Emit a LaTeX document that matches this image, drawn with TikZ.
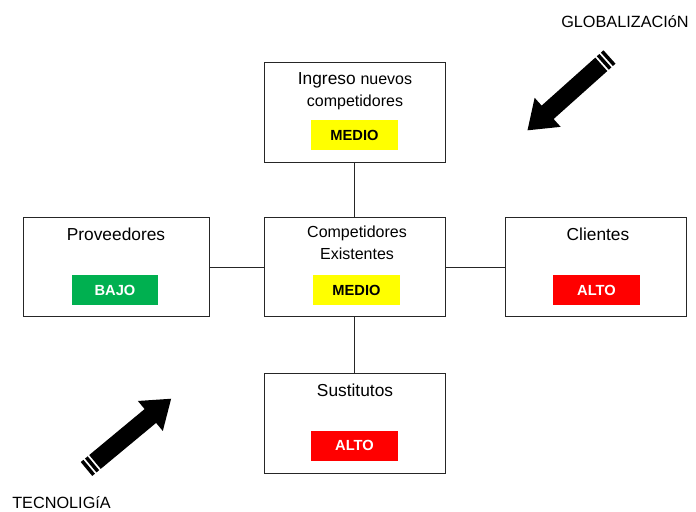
\documentclass[tikz,border=0pt]{standalone}
\usepackage{fontspec}
\setmainfont{Liberation Sans}
\definecolor{lvlyellow}{HTML}{FFFF00}
\definecolor{lvlgreen}{HTML}{00B050}
\definecolor{lvlred}{HTML}{FF0000}
\definecolor{edge}{HTML}{262626}
\begin{document}
\begin{tikzpicture}[x=0.75pt,y=0.75pt,
  force/.style={draw=edge,line width=0.75pt,fill=white,inner sep=0pt,
    minimum width=181*0.75pt,minimum height=100*0.75pt},
  level/.style={inner sep=0pt,minimum width=87*0.75pt,minimum height=30*0.75pt,
    font=\fontsize{11}{13}\selectfont\bfseries},
  title/.style={anchor=base,inner sep=0pt,font=\fontsize{13}{15}\selectfont},
  subtitle/.style={title,font=\fontsize{12}{14}\selectfont},
  link/.style={draw=edge,line width=0.75pt},
  label/.style={anchor=base west,inner sep=0pt,font=\fontsize{12.2}{14}\selectfont},
  bigarrow/.pic={
    \fill (0,-9) rectangle (3.5,9);
    \fill (5.5,-9) rectangle (9,9);
    \fill (11,-9) -- (83,-9) -- (83,-19.5) -- (110,0) -- (83,19.5)
      -- (83,9) -- (11,9) -- cycle;
  }]
\useasboundingbox (0,0) rectangle (696,511);

% the five forces
\node[force] (entry) at (354.5,398) {};
\node[force,minimum height=99*0.75pt] (rivals) at (354.5,243.5) {};
\node[force,minimum height=99*0.75pt,minimum width=186*0.75pt] (suppliers) at (116,243.5) {};
\node[force,minimum height=99*0.75pt] (buyers) at (595.5,243.5) {};
\node[force] (substitutes) at (354.5,88) {};

% links to the central box
\draw[link] (entry.south) -- (rivals.north);
\draw[link] (rivals.south) -- (substitutes.north);
\draw[link] (suppliers.east) -- (rivals.west);
\draw[link] (rivals.east) -- (buyers.west);

% titles
\node[title] (entryA) at (355,426) {Ingreso {\fontsize{12}{14}\selectfont nuevos}};
\node[subtitle] (entryB) at (355,404) {competidores};
\node[subtitle] (rivalsA) at (357,273) {Competidores};
\node[subtitle] (rivalsB) at (357,251) {Existentes};
\node[title] (suppliersT) at (116,270) {Proveedores};
\node[title] (buyersT) at (598,270) {Clientes};
\node[title] (substitutesT) at (355,115) {Sustitutos};

% levels
\node[level,fill=lvlyellow] (entryL) at (354.5,375.5) {MEDIO};
\node[level,fill=lvlyellow] (rivalsL) at (356.5,220.5) {MEDIO};
\node[level,fill=lvlgreen,text=white,minimum width=86*0.75pt] (suppliersL) at (115,220.5) {BAJO};
\node[level,fill=lvlred,text=white] (buyersL) at (596.5,220.5) {ALTO};
\node[level,fill=lvlred,text=white] (substitutesL) at (354.5,65.5) {ALTO};

% external drivers
\node[label] (glob) at (561,483) {GLOBALIZACIóN};
\node[label] (tech) at (12,3) {TECNOLIGíA};
\pic[rotate=221.8] at (609.5,454) {bigarrow};
\pic[rotate=39.7] at (86.5,42) {bigarrow};
\end{tikzpicture}
\end{document}
